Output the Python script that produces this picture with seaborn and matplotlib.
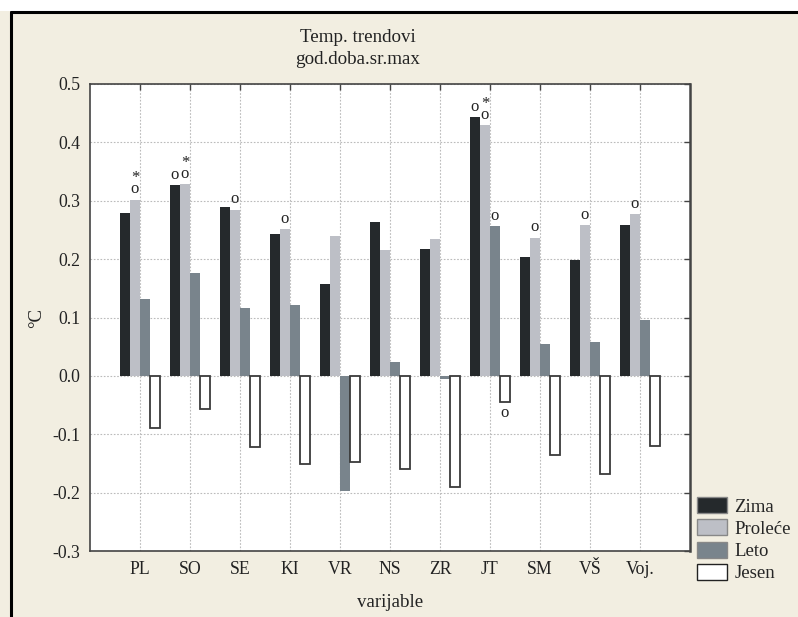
import numpy as np
import pandas as pd
import matplotlib
matplotlib.use("Agg")
import matplotlib.pyplot as plt
from matplotlib.patches import Patch, Rectangle
from matplotlib.lines import Line2D
from matplotlib.ticker import FormatStrFormatter
import seaborn as sns

# ---- data ----
stations = ["PL", "SO", "SE", "KI", "VR", "NS", "ZR", "JT", "SM", "VŠ", "Voj."]
seasons = ["Zima", "Proleće", "Leto", "Jesen"]
zima    = [0.279, 0.327, 0.289, 0.243, 0.157, 0.264, 0.217, 0.444, 0.203, 0.199, 0.259]
prolece = [0.302, 0.329, 0.285, 0.252, 0.239, 0.215, 0.235, 0.429, 0.237, 0.259, 0.277]
leto    = [0.131, 0.177, 0.117, 0.122, -0.198, 0.024, -0.006, 0.256, 0.055, 0.058, 0.095]
jesen   = [-0.089, -0.056, -0.122, -0.151, -0.148, -0.160, -0.190, -0.045, -0.135, -0.168, -0.120]
# significance marks ("o" and "*") per bar
marks_zima    = ["", "o", "", "", "", "", "", "o", "", "", ""]
marks_prolece = ["o*", "o*", "o", "o", "", "", "", "o*", "o", "o", "o"]
marks_leto    = ["", "", "", "", "", "", "", "o", "", "", ""]
marks_jesen   = ["", "", "", "", "", "", "", "o", "", "", ""]
yticks = [-0.3, -0.2, -0.1, 0.0, 0.1, 0.2, 0.3, 0.4, 0.5]

title_lines = ["Temp. trendovi", "god.doba.sr.max"]

values = {"Zima": zima, "Proleće": prolece, "Leto": leto, "Jesen": jesen}
marks = {"Zima": marks_zima, "Proleće": marks_prolece, "Leto": marks_leto, "Jesen": marks_jesen}
df = pd.DataFrame({
    "varijable": stations * len(seasons),
    "sezona": [s for s in seasons for _ in stations],
    "value": zima + prolece + leto + jesen,
})

colors = {"Zima": "#25292C", "Proleće": "#BDBFC6", "Leto": "#79848C", "Jesen": "#FFFFFF"}
BG = "#F2EEE1"

sns.set_theme(style="white")
plt.rcParams["font.family"] = ["Liberation Serif", "DejaVu Serif"]
plt.rcParams["axes.unicode_minus"] = False

fig = plt.figure(figsize=(7.98, 6.17), dpi=100, facecolor=BG)
ax = fig.add_axes([90 / 798, 66 / 617, 600 / 798, 467 / 617])
ax.set_facecolor("white")

sns.barplot(data=df, x="varijable", y="value", hue="sezona", order=stations,
            hue_order=seasons, palette=colors, saturation=1, errorbar=None,
            width=0.8, legend=False, ax=ax, linewidth=0, zorder=3)

# style Jesen bars + significance marks
for i, cont in enumerate(ax.containers):
    season = seasons[i]
    for bar in cont:
        if season == "Jesen":
            bar.set_edgecolor("#3a3a3a")
            bar.set_linewidth(1.3)
        else:
            bar.set_edgecolor("none")
    for bar, m, v in zip(cont, marks[season], values[season]):
        if not m:
            continue
        xc = bar.get_x() + bar.get_width() / 2
        if v >= 0:
            txt = "*\no" if "*" in m else "o"
            ax.annotate(txt, (xc, v), xytext=(0, 1.5), textcoords="offset points",
                        ha="center", va="bottom", fontsize=12, color="#222",
                        linespacing=0.6, multialignment="center")
        else:
            ax.annotate("o", (xc, v), xytext=(0, -2), textcoords="offset points",
                        ha="center", va="top", fontsize=12, color="#222")

ax.set_xlim(-1, len(stations))
ax.set_ylim(-0.3, 0.5)
ax.set_yticks(yticks)
ax.yaxis.set_major_formatter(FormatStrFormatter("%.1f"))
ax.grid(True, which="major", color="#BBBBBB", linestyle=(0, (1.5, 1.5)), linewidth=0.8, zorder=0)
ax.set_axisbelow(True)
ax.tick_params(direction="in", top=True, right=True, length=4, width=1,
               color="#444444", labelcolor="#222222", labelsize=12.8, pad=7)
for s in ax.spines.values():
    s.set_color("#444444")
    s.set_linewidth(1.2)
    s.set_visible(True)
ax.spines["right"].set_linewidth(1.8)

ax.set_xlabel("varijable", fontsize=13.6, color="#222222", labelpad=12)
ax.set_ylabel("°C", fontsize=13.6, color="#222222", labelpad=5)

fig.text(358 / 798, 1 - 37 / 617, title_lines[0], ha="center", va="center", fontsize=13.7, color="#222")
fig.text(358 / 798, 1 - 60 / 617, title_lines[1], ha="center", va="center", fontsize=13.7, color="#222")

handles = [Patch(facecolor=colors[s], edgecolor=("#222222" if s == "Jesen" else "#888888"),
                 linewidth=1.0) for s in seasons]
fig.legend(handles, seasons, loc="upper left", bbox_to_anchor=(697 / 798, 1 - 497 / 617),
           frameon=False, fontsize=13.5, handlelength=1.6, handleheight=0.95,
           labelspacing=0.2, handletextpad=0.4, borderpad=0, borderaxespad=0)

# figure frame: white band at top, black lines top and left
fig.patches.append(Rectangle((0, 1 - 11 / 617), 1, 11 / 617, transform=fig.transFigure,
                             facecolor="white", edgecolor="none", zorder=-1))
fig.lines.append(Line2D([10.5 / 798, 1], [1 - 12 / 617, 1 - 12 / 617], transform=fig.transFigure,
                        color="black", linewidth=2.2))
fig.lines.append(Line2D([11 / 798, 11 / 798], [0, 1 - 12 / 617], transform=fig.transFigure,
                        color="black", linewidth=2.2))

fig.savefig("out.png", dpi=100, facecolor=BG)
